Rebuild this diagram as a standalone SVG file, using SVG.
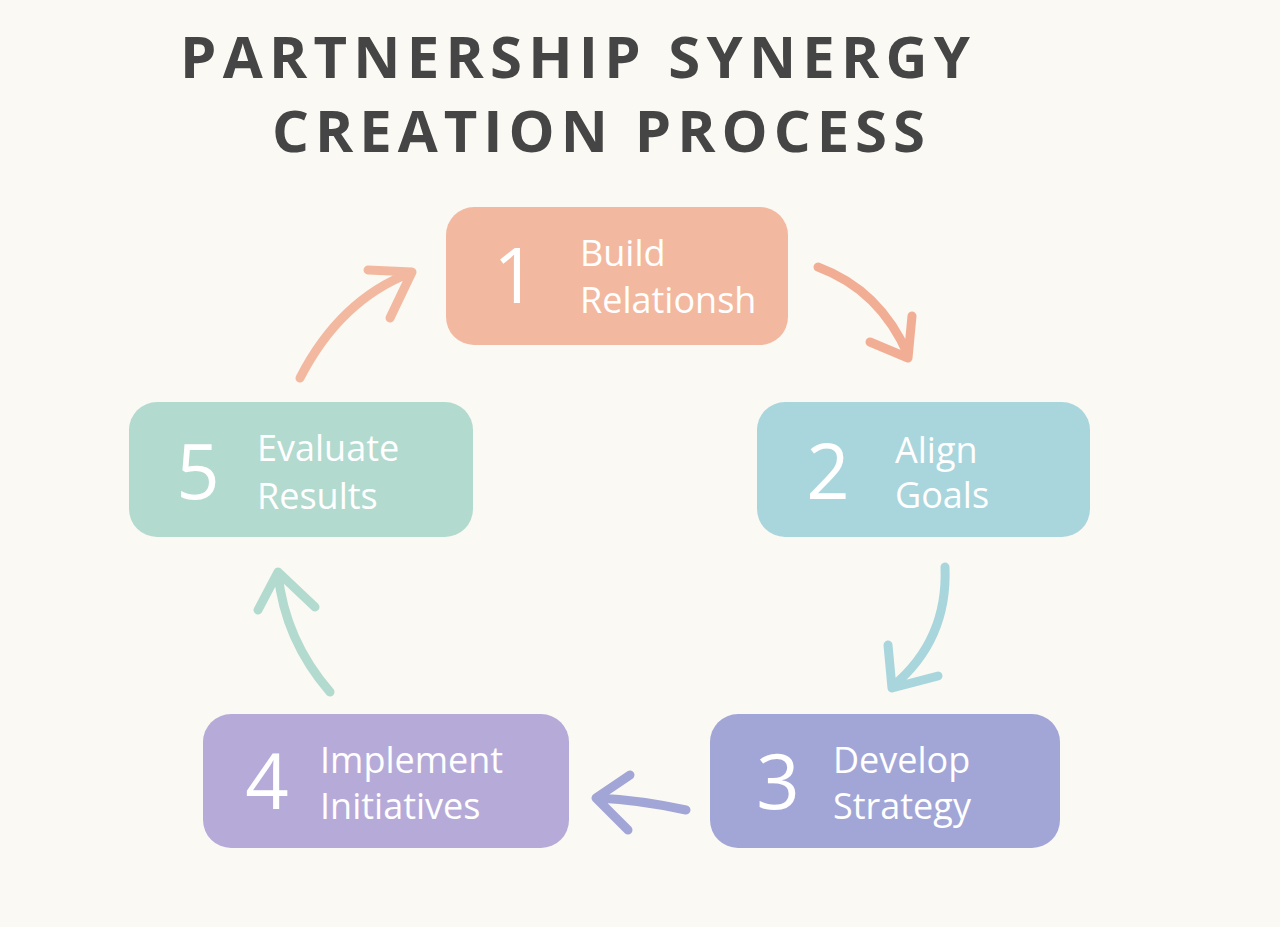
<svg xmlns="http://www.w3.org/2000/svg" width="1280" height="927" viewBox="0 0 1280 927">
<style>
.t{font-family:"Open Sans","DejaVu Sans",sans-serif;font-weight:700;fill:#454545;font-size:58px}
.n{font-family:"Open Sans","DejaVu Sans",sans-serif;fill:#fff;font-size:76px}
.l{font-family:"Open Sans","DejaVu Sans",sans-serif;fill:#fff;font-size:36px}
.a{fill:none;stroke-width:9;stroke-linecap:round;stroke-linejoin:round}
</style>
<rect width="1280" height="927" fill="#fbf9f4"/>
<text class="t" x="180" y="78" textLength="790" lengthAdjust="spacing">PARTNERSHIP SYNERGY</text>
<text class="t" x="272" y="152" textLength="653" lengthAdjust="spacing">CREATION PROCESS</text>
<g id="connectors">
<path class="a" stroke="#f2ae94" d="M818,267 Q880,290 908,355 M870,342 L908,358 L912,316"/>
<path class="a" stroke="#a9d6dc" d="M945,567 Q948,640 893,686 M888,645 L892,688 L938,676"/>
<path class="a" stroke="#a2a6d6" d="M686,810 Q640,800 598,798 M630,775 L596,798 L628,830"/>
<path class="a" stroke="#b3dacf" d="M330,692 Q285,640 278,574 M258,610 L278,572 L315,607"/>
<path class="a" stroke="#f2b9a0" d="M300,378 Q340,300 410,273 M368,270 L412,272 L390,318"/>
</g>
<g id="n1"><rect x="446" y="207" width="342" height="138" rx="28" fill="#f2b9a0"/><text class="n" x="515" y="303" text-anchor="middle">1</text><text class="l" x="580" y="266">Build</text><text class="l" x="580" y="313">Relationsh</text></g>
<g id="n2"><rect x="757" y="402" width="333" height="135" rx="28" fill="#a9d6dc"/><text class="n" x="828" y="499" text-anchor="middle">2</text><text class="l" x="895" y="463">Align</text><text class="l" x="895" y="508">Goals</text></g>
<g id="n3"><rect x="710" y="714" width="350" height="134" rx="28" fill="#a2a6d6"/><text class="n" x="778" y="809" text-anchor="middle">3</text><text class="l" x="833" y="773">Develop</text><text class="l" x="833" y="819">Strategy</text></g>
<g id="n4"><rect x="203" y="714" width="366" height="134" rx="28" fill="#b6abd8"/><text class="n" x="267" y="809" text-anchor="middle">4</text><text class="l" x="320" y="773">Implement</text><text class="l" x="320" y="819">Initiatives</text></g>
<g id="n5"><rect x="129" y="402" width="344" height="135" rx="28" fill="#b3dacf"/><text class="n" x="198" y="499" text-anchor="middle">5</text><text class="l" x="257" y="461">Evaluate</text><text class="l" x="257" y="509">Results</text></g>
</svg>
